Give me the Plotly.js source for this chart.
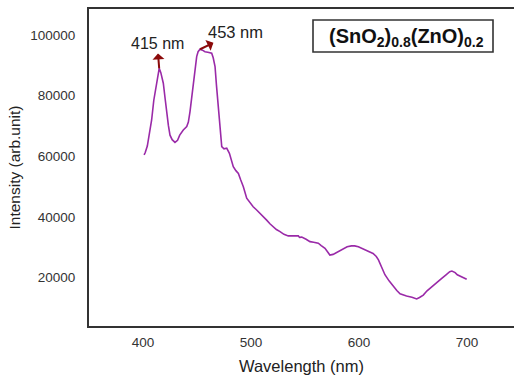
<!DOCTYPE html>
<html>
<head>
<meta charset="utf-8">
<script src="https://cdn.plot.ly/plotly-3.0.1.min.js"></script>
<style>html,body{margin:0;padding:0;overflow:hidden;background:#fff;}</style>
</head>
<body>
<div id="chart" style="width:514px;height:375px;"></div>
<script>
const wavelength = [401, 402, 404, 406, 408, 410, 412.7, 415, 416.5, 418.8, 420.5, 422, 423.5, 425, 427, 429.6, 432, 434, 437.3, 440.5, 442, 443.5, 445, 446.6, 448, 449.7, 451, 452.8, 455, 457.4, 460, 463.6, 465, 466.7, 468, 469.7, 471.5, 472.9, 475, 477.5, 480, 483.6, 486, 488.3, 490.5, 492.9, 496, 499, 502, 505, 508.3, 511, 514.5, 517.5, 520.6, 523.5, 526.9, 530.5, 534.5, 539, 543.8, 545, 547, 551, 554.6, 558, 562.3, 565, 568.5, 571, 573, 576, 579, 582, 585.5, 589, 593, 596, 599.4, 603, 607, 610, 613, 616, 618, 621, 624, 628, 631.8, 635, 638, 641, 644, 649, 653.4, 656, 659.5, 663, 667.3, 672, 676.6, 680, 684, 686, 689, 691, 693.5, 697, 699.7];
const intensity = [60500, 61200, 63400, 67500, 72000, 78500, 84100, 89000, 87600, 84100, 79000, 74200, 70200, 67000, 65500, 64600, 65300, 67000, 68700, 69800, 71300, 74700, 79000, 84100, 89000, 92900, 94500, 95300, 95000, 94500, 94300, 94000, 92500, 89600, 83500, 76400, 69000, 63200, 62500, 62700, 61000, 56600, 55300, 54400, 52200, 50000, 46200, 44700, 43400, 42400, 41300, 40300, 39000, 37800, 36800, 35900, 35200, 34300, 33800, 33800, 33800, 33300, 33400, 32700, 31900, 31700, 31400, 30600, 29700, 28500, 27500, 27700, 28300, 29000, 29700, 30200, 30500, 30500, 30200, 29700, 28900, 28500, 28000, 27000, 25900, 23500, 21000, 18900, 17100, 15800, 14700, 14300, 14000, 13600, 13000, 13500, 14300, 15700, 17100, 18500, 19800, 20800, 22000, 22200, 21700, 21000, 20600, 20000, 19500];
const xTickVals = [400, 500, 600, 700];
const xTickText = ['400', '500', '600', '700'];
const yTickVals = [20000, 40000, 60000, 80000, 100000];
const yTickText = ['20000', '40000', '60000', '80000', '100000'];
const peakX = [415, 452.8];
const peakY = [89000, 95300];
const peakText = ['415 nm', '453 nm'];
const xTitle = 'Wavelength (nm)';
const yTitle = 'Intensity (arb.unit)';
const sampleLabel = '(SnO<sub>2</sub>)<sub>0.8</sub>(ZnO)<sub>0.2</sub>';

const FONT = 'Arial, "Liberation Sans", sans-serif';

const trace = {
  x: wavelength, y: intensity, type: 'scatter', mode: 'lines',
  line: {color: '#9a2aa8', width: 1.6}, hoverinfo: 'skip'
};

// plot area in pixels: left 89, right 514, top 9, bottom 326
const px = v => (v - 89) / 425;
const py = v => (326 - v) / 317;

const annotations = [
  {x: peakX[0], y: peakY[0], text: peakText[0], showarrow: true,
   ax: -2, ay: -25, arrowside: 'start', arrowhead: 2, arrowsize: 0.55, arrowwidth: 2, arrowcolor: '#8b0a0a',
   standoff: 0, startstandoff: 0, font: {family: FONT, size: 16, color: '#222'}},
  {x: peakX[1], y: peakY[1], text: peakText[1], showarrow: true,
   ax: 35, ay: -17, arrowside: 'start', arrowhead: 2, arrowsize: 0.55, arrowwidth: 2, arrowcolor: '#8b0a0a',
   standoff: 0, startstandoff: 0, font: {family: FONT, size: 16.5, color: '#222'}},
  {xref: 'paper', yref: 'paper', x: px(406), y: py(37), xanchor: 'center', yanchor: 'middle',
   text: '<b>' + sampleLabel + '</b>', showarrow: false,
   font: {family: FONT, size: 20, color: '#111'}}
];

const shapes = [
  {type: 'rect', xref: 'paper', yref: 'paper', x0: px(313), x1: px(493), y0: py(52), y1: py(20),
   line: {color: '#333', width: 1.6}, fillcolor: 'rgba(0,0,0,0)'}
];

const layout = {
  width: 514, height: 375,
  margin: {l: 89, r: 0, t: 9, b: 49},
  paper_bgcolor: '#fff', plot_bgcolor: '#fff',
  showlegend: false,
  font: {family: FONT, color: '#222'},
  xaxis: {
    range: [350, 743.5], tickvals: xTickVals, ticktext: xTickText, showgrid: false, zeroline: false,
    showline: true, linecolor: '#333', linewidth: 2, mirror: true,
    ticks: 'outside', ticklen: 3, tickcolor: 'rgba(0,0,0,0)',
    tickfont: {family: FONT, size: 13.5, color: '#333'},
    title: {text: xTitle, font: {family: FONT, size: 16.5, color: '#222'}, standoff: 12}
  },
  yaxis: {
    range: [4100, 108570], tickvals: yTickVals, ticktext: yTickText, showgrid: false, zeroline: false,
    showline: true, linecolor: '#333', linewidth: 2, mirror: false,
    ticks: 'outside', ticklen: 9, tickcolor: 'rgba(0,0,0,0)',
    tickfont: {family: FONT, size: 13.5, color: '#333'},
    title: {text: yTitle, font: {family: FONT, size: 15.5, color: '#222'}, standoff: 6}
  },
  annotations: annotations,
  shapes: shapes
};

Plotly.newPlot('chart', [trace], layout, {displayModeBar: false, staticPlot: true});
</script>
</body>
</html>
